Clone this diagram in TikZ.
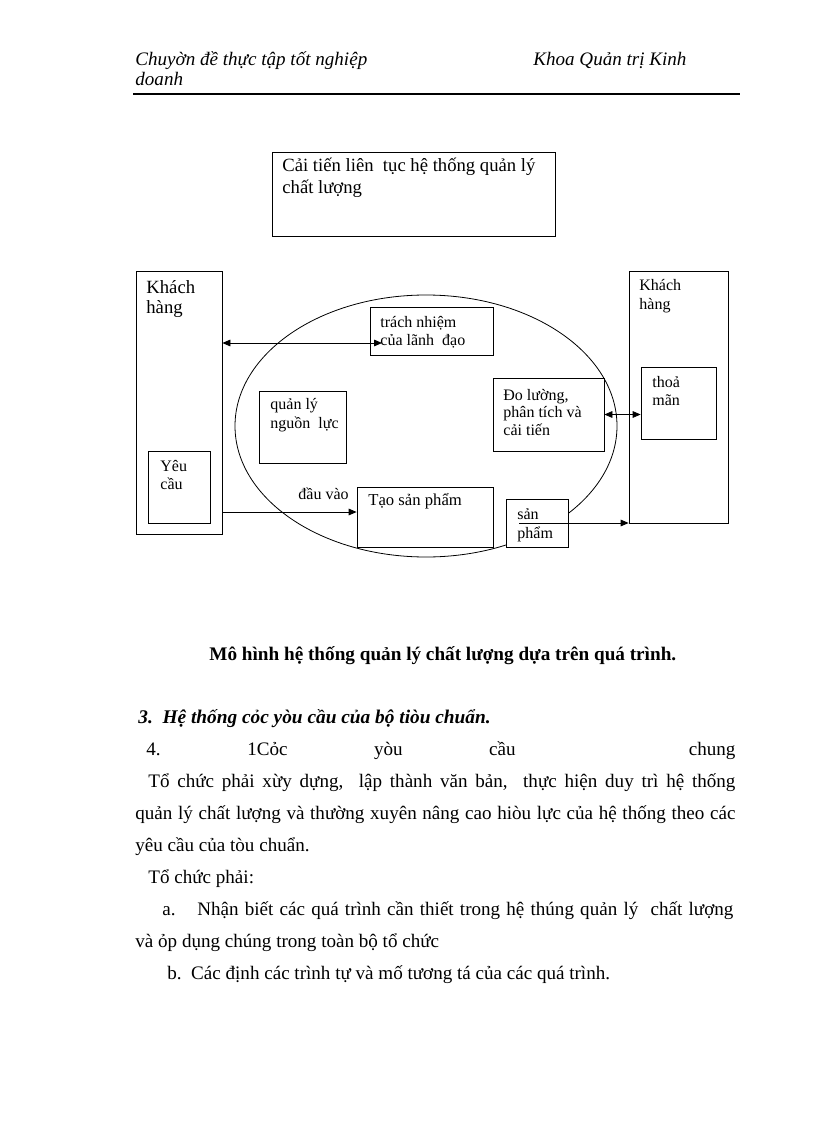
\documentclass[tikz,border=0pt]{standalone}
\usepackage{fontspec}
\setmainfont{Liberation Serif}
\usetikzlibrary{arrows.meta,fit,shapes.geometric}
\tikzset{every picture/.style={line width=0.6pt}}

\begin{document}
\begin{tikzpicture}[x=0.75pt,y=0.75pt,yscale=-1,xscale=1,
  box/.style={draw,fill=white,inner sep=0pt},
  txt/.style={anchor=base west,inner sep=0pt,align=left},
  big/.style={font=\fontsize{14}{16.5}\selectfont},
  small/.style={font=\fontsize{12}{13.5}\selectfont},
  body/.style={font=\fontsize{14.3}{24}\selectfont},
  arr/.style={-{Triangle[length=6pt,width=5pt]}},
  dbl/.style={{Triangle[length=6pt,width=5pt]}-{Triangle[length=6pt,width=5pt]}}]
    \useasboundingbox (0,0) rectangle (816,1123);
    % Header
    \node[txt,font=\fontsize{14.3}{15}\selectfont\itshape] (hdl) at (135,66) {Chuyờn đề thực tập tốt nghiệp};
    \node[txt,font=\fontsize{14.3}{15}\selectfont\itshape] (hdr) at (533,66) {Khoa Quản trị Kinh};
    \node[txt,font=\fontsize{14.3}{15}\selectfont\itshape] (hd2) at (135,86) {doanh};
    \draw[line width=1.5pt] (133,94) -- (740,94);
    % Ellipse
    \node[draw,ellipse,minimum width=286.5pt,minimum height=196.5pt,inner sep=0pt] (qt) at (426,426) {};
    % Boxes
    \node[box,fit={(272,152) (555,236)}] (ct) {};
    \node[box,fit={(136,271) (222,534)}] (kh1) {};
    \node[box,fit={(148,451) (210,523)}] (yc) {};
    \node[box,fit={(370,307) (493,355)}] (tn) {};
    \node[box,fit={(259,391) (346,463)}] (ql) {};
    \node[box,fit={(493,378) (604,451)}] (dl) {};
    \node[box,fit={(629,271) (728,523)}] (kh2) {};
    \node[box,fit={(641,367) (716,439)}] (tm) {};
    \node[box,fit={(357,487) (493,547)}] (tsp) {};
    \node[box,fit={(506,499) (568,547)}] (sp) {};
    % Box texts (base = last line)
    \node[txt,big] (ctt) at (282,194) {Cải tiến liên\ \ tục hệ thống quản lý\\chất lượng};
    \node[txt,font=\fontsize{14}{15}\selectfont] (kh1t) at (146,313) {Khách\\hàng};
    \node[txt,small,font=\fontsize{12}{13}\selectfont] (yct) at (160,489) {Yêu\\cầu};
    \node[txt,small] (tnt) at (380,345) {trách nhiệm\\của lãnh\ \ đạo};
    \node[txt,small,font=\fontsize{12}{14.25}\selectfont] (qlt) at (270,428) {quản lý\\nguồn\ \ lực};
    \node[txt,small,font=\fontsize{12}{13.1}\selectfont] (dlt) at (503,435) {Đo lường,\\phân tích và\\cải tiến};
    \node[txt,small] (tmt) at (652,405) {thoả\\mãn};
    \node[txt,small,font=\fontsize{12}{14.25}\selectfont] (kh2t) at (639,309) {Khách\\hàng};
    \node[txt,font=\fontsize{12.5}{15}\selectfont] (tspt) at (368,505) {Tạo sản phẩm};
    \node[txt,small,font=\fontsize{12}{14.25}\selectfont] (spt) at (517,538) {sản\\phẩm};
    \node[txt,small] (dvt) at (298,499) {đầu vào};
    % Connectors
    \coordinate (tnin) at (382,343);
    \coordinate (dvy) at (300,512);
    \coordinate (spin) at (519,523);
    \draw[dbl] (kh1.east |- tnin) -- (tnin);
    \draw[arr] (kh1.east |- dvy) -- (tsp.west |- dvy);
    \draw[dbl] (dl.east) -- (dl.east -| tm.west);
    \draw[arr] (spin) -- (spin -| kh2.west);
    % Caption and body text
    \node[txt,font=\fontsize{14.4}{24}\selectfont\bfseries] (cap) at (209,660) {Mô hình hệ thống quản lý chất lượng dựa trên quá trình.};
    \node[txt,font=\fontsize{14.5}{24}\selectfont\bfseries\itshape] (sec3) at (138,723) {3.\ \ Hệ thống cỏc yòu cầu của bộ tiòu chuẩn.};
    \node[txt,body] (ln4) at (146,755) {\makebox[441.75pt][l]{4.\hfill 1Cỏc\hfill yòu\hfill cầu\hfill\hfill chung}};
    \node[txt,body] (pa1) at (148,787) {\makebox[440.25pt][s]{Tổ chức phải xừy dựng,\ \ lập thành văn bản,\ \ thực hiện duy trì hệ thống}};
    \node[txt,body] (pa2) at (135,819) {\makebox[450pt][s]{quản lý chất lượng và thường xuyên nâng cao hiòu lực của hệ thống theo các}};
    \node[txt,body] (pa3) at (135,851) {yêu cầu của tòu chuẩn.};
    \node[txt,body] (pb1) at (148,883) {Tổ chức phải:};
    \node[txt,body] (pla) at (162,915) {a.};
    \node[txt,body] (pc1) at (197,915) {\makebox[402pt][s]{Nhận biết các quá trình cần thiết trong hệ thúng quản lý\ \ chất lượng}};
    \node[txt,body] (pc2) at (135,947) {và ỏp dụng chúng trong toàn bộ tổ chức};
    \node[txt,body] (pd1) at (167,979) {b.\ \ Các định các trình tự và mố tương tá của các quá trình.};
\end{tikzpicture}
\end{document}
